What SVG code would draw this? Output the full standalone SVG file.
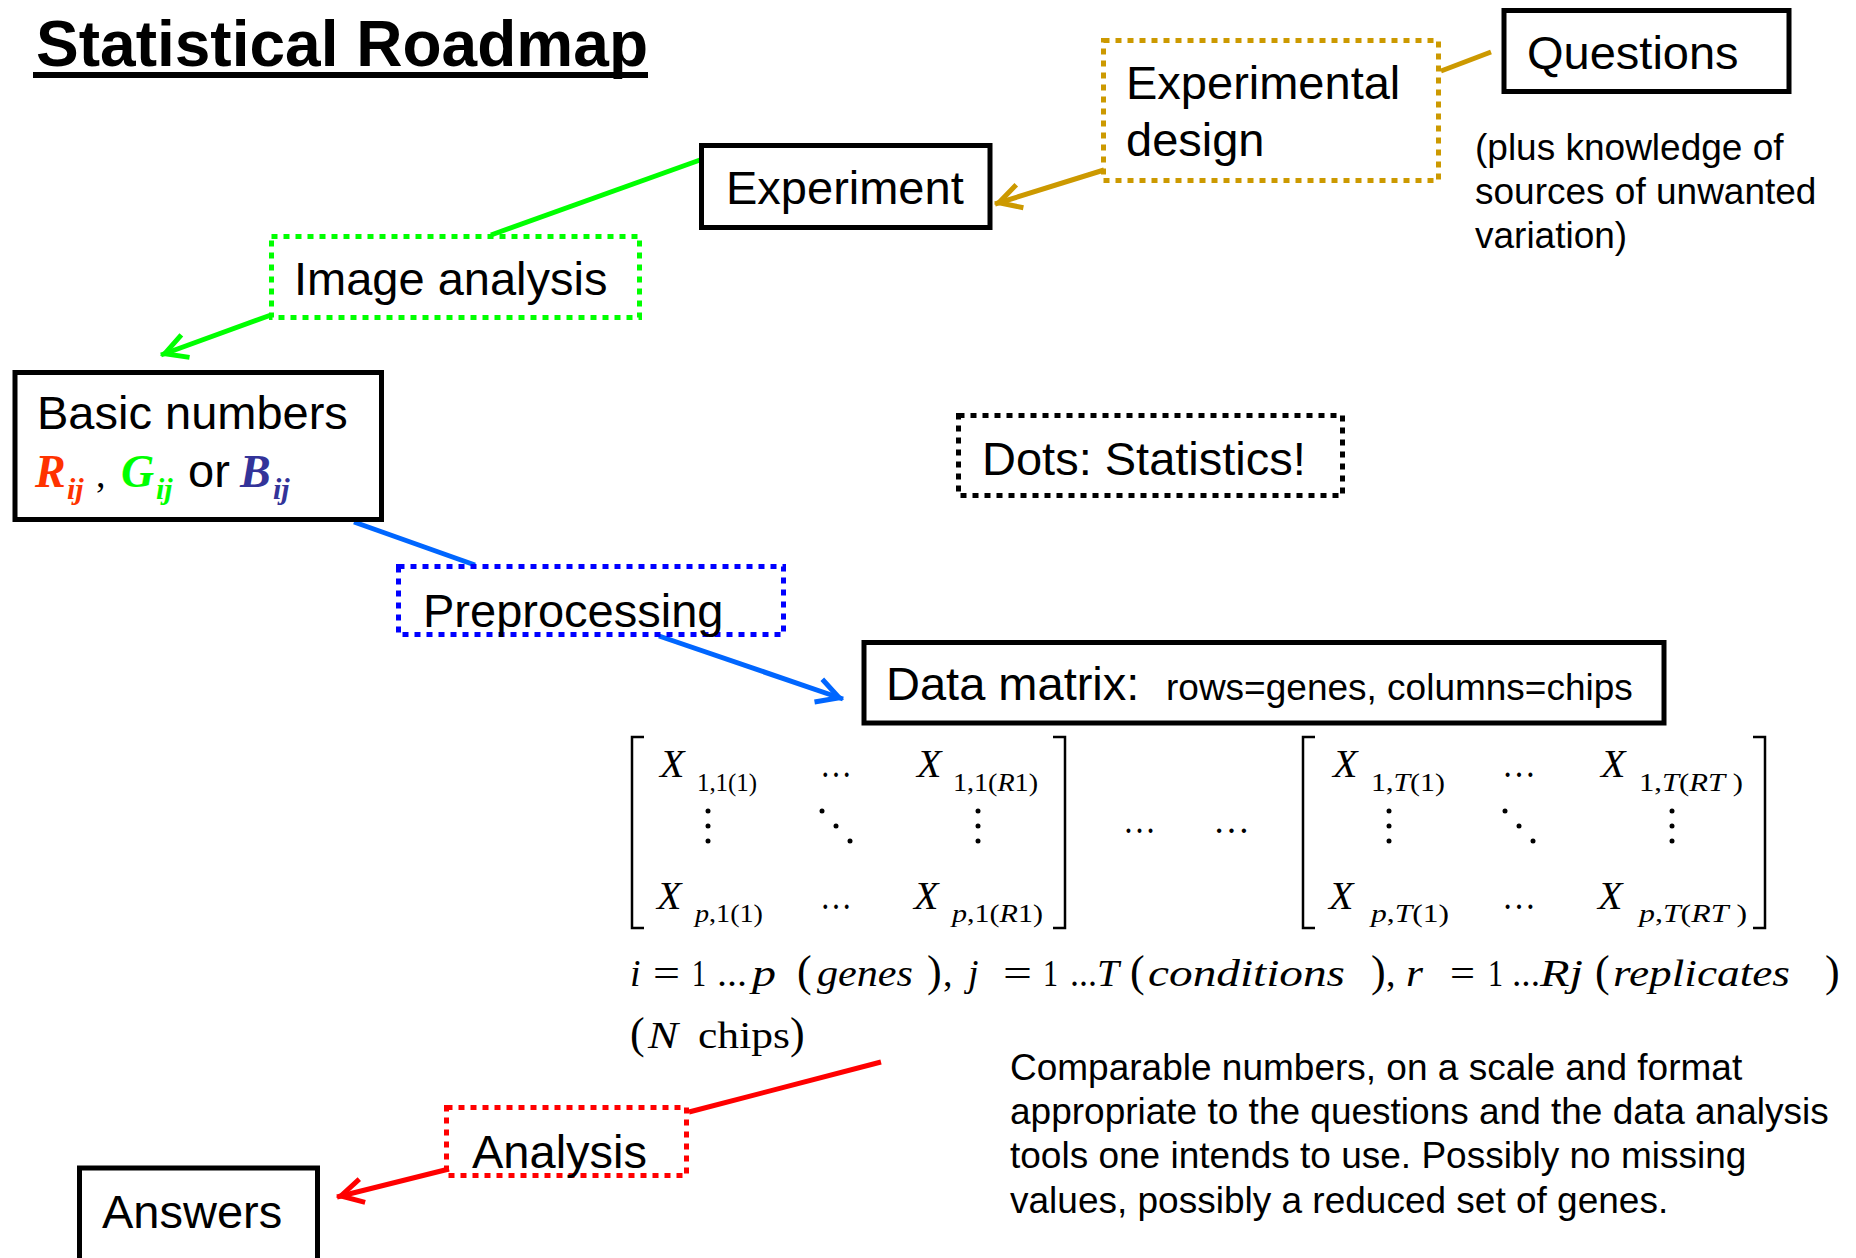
<svg xmlns="http://www.w3.org/2000/svg" width="1856" height="1258" viewBox="0 0 1856 1258">
<style>
.lbl{font-family:"Liberation Sans",Arial,sans-serif;font-size:47px;fill:#000}
.sm{font-size:37px}
.m{font-family:"Liberation Serif","Times New Roman",serif;font-size:38px;fill:#000}
.x{font-family:"Liberation Serif","Times New Roman",serif;font-size:40px;font-style:italic;fill:#000}
.sub{font-family:"Liberation Serif","Times New Roman",serif;font-size:25px;fill:#000}
.it{font-style:italic}
.par{font-size:44px}
.box{fill:#fff;stroke:#000;stroke-width:5}
.dot{fill:none;stroke-width:5;stroke-dasharray:6 6}
.br{fill:none;stroke:#000;stroke-width:2.5}
.conn line{stroke-width:5;fill:none}
.rgb{font-family:"Liberation Serif","Times New Roman",serif;font-style:italic;font-weight:bold}
</style>
<defs>
<marker id="ah-gold" markerUnits="userSpaceOnUse" viewBox="-30 -16 34 32" markerWidth="34" markerHeight="32" refX="0" refY="0" orient="auto"><path d="M-26,-12 L-4,0 L-26,12" fill="none" stroke="#CC9900" stroke-width="5"/></marker>
<marker id="ah-green" markerUnits="userSpaceOnUse" viewBox="-30 -16 34 32" markerWidth="34" markerHeight="32" refX="0" refY="0" orient="auto"><path d="M-26,-12 L-4,0 L-26,12" fill="none" stroke="#00FF00" stroke-width="5"/></marker>
<marker id="ah-blue" markerUnits="userSpaceOnUse" viewBox="-30 -16 34 32" markerWidth="34" markerHeight="32" refX="0" refY="0" orient="auto"><path d="M-26,-12 L-4,0 L-26,12" fill="none" stroke="#0066FF" stroke-width="5"/></marker>
<marker id="ah-red" markerUnits="userSpaceOnUse" viewBox="-30 -16 34 32" markerWidth="34" markerHeight="32" refX="0" refY="0" orient="auto"><path d="M-26,-12 L-4,0 L-26,12" fill="none" stroke="#FF0000" stroke-width="5"/></marker>
</defs>
<rect width="1856" height="1258" fill="#fff"/>

<g id="title">
<text x="36" y="66" style="font-family:'Liberation Sans',Arial,sans-serif;font-weight:bold;font-size:64px" textLength="612" lengthAdjust="spacingAndGlyphs">Statistical Roadmap</text>
<rect x="33" y="72" width="615" height="6" fill="#000"/>
</g>

<g id="connectors" class="conn">
<line x1="1491" y1="52" x2="1441" y2="71" stroke="#CC9900"/>
<line x1="1104" y1="170" x2="995" y2="204" stroke="#CC9900" marker-end="url(#ah-gold)"/>
<line x1="700" y1="160" x2="491" y2="235" stroke="#00FF00"/>
<line x1="271" y1="315" x2="161" y2="355" stroke="#00FF00" marker-end="url(#ah-green)"/>
<line x1="354" y1="522" x2="475" y2="565" stroke="#0066FF"/>
<line x1="659" y1="636" x2="843" y2="699" stroke="#0066FF" marker-end="url(#ah-blue)"/>
<line x1="881" y1="1062" x2="689" y2="1112" stroke="#FF0000"/>
<line x1="449" y1="1169" x2="337" y2="1197" stroke="#FF0000" marker-end="url(#ah-red)"/>
</g>

<g id="questions">
<rect class="box" x="1504" y="10.5" width="285" height="81"/>
<text class="lbl" x="1527" y="69">Questions</text>
</g>

<g id="experimental-design">
<rect class="dot" stroke="#CC9900" x="1103.5" y="40.5" width="335" height="140"/>
<text class="lbl" x="1126" y="99">Experimental</text>
<text class="lbl" x="1126" y="156">design</text>
</g>

<g id="questions-note">
<text class="lbl sm" x="1475" y="160">(plus knowledge of</text>
<text class="lbl sm" x="1475" y="204">sources of unwanted</text>
<text class="lbl sm" x="1475" y="248">variation)</text>
</g>

<g id="experiment">
<rect class="box" x="701.5" y="145.5" width="288.5" height="82"/>
<text class="lbl" x="726" y="204">Experiment</text>
</g>

<g id="image-analysis">
<rect class="dot" stroke="#00FF00" x="271.5" y="236.5" width="368" height="81"/>
<text class="lbl" x="294" y="295">Image analysis</text>
</g>

<g id="basic-numbers">
<rect class="box" x="15" y="372.5" width="366.5" height="147"/>
<text class="lbl" x="37" y="429">Basic numbers</text>
<text class="rgb" x="35" y="487" style="font-size:46px" fill="#FF3300">R</text>
<text class="rgb" x="67" y="499" style="font-size:30px" fill="#FF3300">ij</text>
<text class="m" x="96" y="487">,</text>
<text class="rgb" x="121" y="487" style="font-size:46px" fill="#00FF00">G</text>
<text class="rgb" x="156" y="499" style="font-size:30px" fill="#00FF00">ij</text>
<text class="lbl" x="188" y="487">or</text>
<text class="rgb" x="240" y="487" style="font-size:46px" fill="#333399">B</text>
<text class="rgb" x="273" y="499" style="font-size:30px" fill="#333399">ij</text>
</g>

<g id="preprocessing">
<rect class="dot" stroke="#0000FF" x="398.5" y="566.5" width="385" height="68"/>
<text class="lbl" x="423" y="627">Preprocessing</text>
</g>

<g id="dots-statistics">
<rect class="dot" stroke="#000" x="958.5" y="415.5" width="384" height="80"/>
<text class="lbl" x="982" y="475">Dots: Statistics!</text>
</g>

<g id="data-matrix">
<rect class="box" x="864" y="642.5" width="800" height="80.5"/>
<text class="lbl" x="886" y="700">Data matrix:</text>
<text class="lbl sm" x="1166" y="700">rows=genes, columns=chips</text>
</g>

<g id="matrix-1">
<path class="br" d="M644,737 H632 V928 H644"/>
<path class="br" d="M1053,737 H1065 V928 H1053"/>
<text class="x" x="660" y="777">X</text>
<text class="sub" x="697" y="791" textLength="60" lengthAdjust="spacingAndGlyphs">1,1(1)</text>
<text class="m" x="820" y="777" textLength="32" lengthAdjust="spacingAndGlyphs">…</text>
<text class="x" x="917" y="777">X</text>
<text class="sub" x="953" y="791" textLength="85" lengthAdjust="spacingAndGlyphs">1,1(<tspan class="it">R</tspan>1)</text>
<g fill="#000">
<circle cx="708" cy="811" r="2.5"/><circle cx="708" cy="826" r="2.5"/><circle cx="708" cy="841" r="2.5"/>
<circle cx="822" cy="811" r="2.5"/><circle cx="836" cy="826" r="2.5"/><circle cx="850" cy="841" r="2.5"/>
<circle cx="978" cy="811" r="2.5"/><circle cx="978" cy="826" r="2.5"/><circle cx="978" cy="841" r="2.5"/>
</g>
<text class="x" x="657" y="909">X</text>
<text class="sub" x="695" y="922" textLength="68" lengthAdjust="spacingAndGlyphs"><tspan class="it">p</tspan>,1(1)</text>
<text class="m" x="820" y="909" textLength="32" lengthAdjust="spacingAndGlyphs">…</text>
<text class="x" x="914" y="909">X</text>
<text class="sub" x="952" y="922" textLength="91" lengthAdjust="spacingAndGlyphs"><tspan class="it">p</tspan>,1(<tspan class="it">R</tspan>1)</text>
</g>

<g id="between-dots">
<text class="m" x="1123" y="833" textLength="33" lengthAdjust="spacingAndGlyphs">…</text>
<text class="m" x="1213" y="833" textLength="37" lengthAdjust="spacingAndGlyphs">…</text>
</g>

<g id="matrix-2">
<path class="br" d="M1315,737 H1303 V928 H1315"/>
<path class="br" d="M1753,737 H1765 V928 H1753"/>
<text class="x" x="1333" y="777">X</text>
<text class="sub" x="1371" y="791" textLength="74" lengthAdjust="spacingAndGlyphs">1,<tspan class="it">T</tspan>(1)</text>
<text class="m" x="1502" y="777" textLength="34" lengthAdjust="spacingAndGlyphs">…</text>
<text class="x" x="1601" y="777">X</text>
<text class="sub" x="1639" y="791" textLength="104" lengthAdjust="spacingAndGlyphs">1,<tspan class="it">T</tspan>(<tspan class="it">RT</tspan> )</text>
<g fill="#000">
<circle cx="1389" cy="811" r="2.5"/><circle cx="1389" cy="826" r="2.5"/><circle cx="1389" cy="841" r="2.5"/>
<circle cx="1505" cy="811" r="2.5"/><circle cx="1519" cy="826" r="2.5"/><circle cx="1533" cy="841" r="2.5"/>
<circle cx="1672" cy="811" r="2.5"/><circle cx="1672" cy="826" r="2.5"/><circle cx="1672" cy="841" r="2.5"/>
</g>
<text class="x" x="1329" y="909">X</text>
<text class="sub" x="1371" y="922" textLength="78" lengthAdjust="spacingAndGlyphs"><tspan class="it">p</tspan>,<tspan class="it">T</tspan>(1)</text>
<text class="m" x="1502" y="909" textLength="34" lengthAdjust="spacingAndGlyphs">…</text>
<text class="x" x="1598" y="909">X</text>
<text class="sub" x="1639" y="922" textLength="108" lengthAdjust="spacingAndGlyphs"><tspan class="it">p</tspan>,<tspan class="it">T</tspan>(<tspan class="it">RT</tspan> )</text>
</g>

<g id="indices">
<text class="m it" x="630" y="986">i</text>
<text class="m" x="653" y="986" textLength="27" lengthAdjust="spacingAndGlyphs">=</text>
<text class="m" x="692" y="986" textLength="14" lengthAdjust="spacingAndGlyphs">1</text>
<text class="m" x="717" y="986" textLength="30" lengthAdjust="spacingAndGlyphs">...</text>
<text class="m it" x="752" y="986" textLength="24" lengthAdjust="spacingAndGlyphs">p</text>
<text class="m par" x="797" y="986">(</text>
<text class="m it" x="817" y="986" textLength="96" lengthAdjust="spacingAndGlyphs">genes</text>
<text class="m par" x="927" y="986">)</text>
<text class="m" x="943" y="986">,</text>
<text class="m it" x="968" y="986">j</text>
<text class="m" x="1003" y="986" textLength="29" lengthAdjust="spacingAndGlyphs">=</text>
<text class="m" x="1043" y="986" textLength="15" lengthAdjust="spacingAndGlyphs">1</text>
<text class="m" x="1070" y="986" textLength="27" lengthAdjust="spacingAndGlyphs">...</text>
<text class="m it" x="1097" y="986" textLength="22" lengthAdjust="spacingAndGlyphs">T</text>
<text class="m par" x="1130" y="986">(</text>
<text class="m it" x="1148" y="986" textLength="197" lengthAdjust="spacingAndGlyphs">conditions</text>
<text class="m par" x="1371" y="986">)</text>
<text class="m" x="1386" y="986">,</text>
<text class="m it" x="1406" y="986" textLength="17" lengthAdjust="spacingAndGlyphs">r</text>
<text class="m" x="1450" y="986" textLength="25" lengthAdjust="spacingAndGlyphs">=</text>
<text class="m" x="1488" y="986" textLength="15" lengthAdjust="spacingAndGlyphs">1</text>
<text class="m" x="1512" y="986" textLength="28" lengthAdjust="spacingAndGlyphs">...</text>
<text class="m it" x="1540" y="986" textLength="43" lengthAdjust="spacingAndGlyphs">Rj</text>
<text class="m par" x="1595" y="986">(</text>
<text class="m it" x="1613" y="986" textLength="177" lengthAdjust="spacingAndGlyphs">replicates</text>
<text class="m par" x="1825" y="986">)</text>
<text class="m par" x="630" y="1048">(</text>
<text class="m it" x="648" y="1048" textLength="30" lengthAdjust="spacingAndGlyphs">N</text>
<text class="m" x="698" y="1048" textLength="92" lengthAdjust="spacingAndGlyphs">chips</text>
<text class="m par" x="790" y="1048">)</text>
</g>

<g id="comparable-note">
<text class="lbl sm" x="1010" y="1080">Comparable numbers, on a scale and format</text>
<text class="lbl sm" x="1010" y="1124">appropriate to the questions and the data analysis</text>
<text class="lbl sm" x="1010" y="1168">tools one intends to use. Possibly no missing</text>
<text class="lbl sm" x="1010" y="1213">values, possibly a reduced set of genes.</text>
</g>

<g id="analysis">
<rect class="dot" stroke="#FF0000" x="446.5" y="1107.5" width="240" height="68"/>
<text class="lbl" x="472" y="1168">Analysis</text>
</g>

<g id="answers">
<rect class="box" x="79.5" y="1168" width="238" height="110"/>
<text class="lbl" x="102" y="1228">Answers</text>
</g>
</svg>
